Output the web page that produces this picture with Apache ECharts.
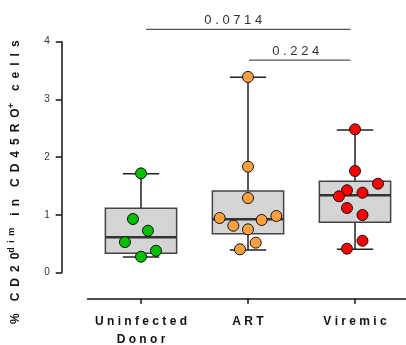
<!DOCTYPE html>
<html><head><meta charset="utf-8">
<script src="https://cdn.jsdelivr.net/npm/echarts@6/dist/echarts.min.js"></script>
<style>html,body{margin:0;padding:0;background:#fff}#c{width:406px;height:345px}</style>
</head><body><div id="c"></div>
<script>
const categories = ['Uninfected\nDonor', 'ART', 'Viremic'];
const yTicks = [0, 1, 2, 3, 4];
// box stats: [min, Q1, median, Q3, max]
const boxUninfected = [0.27, 0.336, 0.613, 1.115, 1.714];
const boxART = [0.393, 0.675, 0.925, 1.415, 3.384];
const boxViremic = [0.405, 0.873, 1.34, 1.583, 2.471];
const ptsUninfected = [1.72, 0.93, 0.727, 0.53, 0.38, 0.277];
const jitUninfected = [0, -0.075, 0.065, -0.15, 0.14, 0];
const ptsART = [3.39, 1.835, 1.293, 0.947, 0.982, 0.913, 0.814, 0.751, 0.52, 0.405];
const jitART = [0, 0, 0, -0.265, 0.265, 0.128, -0.137, 0, 0.072, -0.075];
const ptsViremic = [2.483, 1.761, 1.541, 1.427, 1.385, 1.323, 1.12, 0.999, 0.554, 0.416];
const jitViremic = [0, 0, 0.215, -0.075, 0.07, -0.15, -0.075, 0.07, 0.07, -0.075];
const pValues = ['0.0714', '0.224'];
const comparisons = [[0, 2], [1, 2]];
const bracketLevels = [4.215, 3.68];

const spaced = s => s.split('').join(' ');
const wide = s => s.split('').join('\u2002');
const boxes = [boxUninfected, boxART, boxViremic];
const pointColors = ['#00c000', '#ffa040', '#ff0000'];
const groups = [[ptsUninfected, jitUninfected], [ptsART, jitART], [ptsViremic, jitViremic]];

const chart = echarts.init(document.getElementById('c'), null, {renderer: 'canvas'});
const FONT = 'Liberation Sans, Arial, sans-serif';

const boxSeries = {
  type: 'custom', xAxisIndex: 1, yAxisIndex: 0, z: 2,
  data: boxes.map((b, i) => [i].concat(b)),
  renderItem: function (params, api) {
    const x = api.value(0);
    const bw = api.size([1, 0])[0];
    const hw = bw * 0.333, cw = bw * 0.17;
    const pMin = api.coord([x, api.value(1)]);
    const pQ1 = api.coord([x, api.value(2)]);
    const pMed = api.coord([x, api.value(3)]);
    const pQ3 = api.coord([x, api.value(4)]);
    const pMax = api.coord([x, api.value(5)]);
    const cx = pMin[0];
    return {
      type: 'group', children: [
        {type: 'line', shape: {x1: cx, y1: pQ3[1], x2: cx, y2: pMax[1]}, style: {stroke: '#222', lineWidth: 1.5}},
        {type: 'line', shape: {x1: cx, y1: pQ1[1], x2: cx, y2: pMin[1]}, style: {stroke: '#222', lineWidth: 1.5}},
        {type: 'line', shape: {x1: cx - cw, y1: pMax[1], x2: cx + cw, y2: pMax[1]}, style: {stroke: '#222', lineWidth: 1.5}},
        {type: 'line', shape: {x1: cx - cw, y1: pMin[1], x2: cx + cw, y2: pMin[1]}, style: {stroke: '#222', lineWidth: 1.5}},
        {type: 'rect', shape: {x: cx - hw, y: pQ3[1], width: 2 * hw, height: pQ1[1] - pQ3[1]}, style: {fill: '#d4d4d4', stroke: '#444', lineWidth: 1.5}},
        {type: 'line', shape: {x1: cx - hw, y1: pMed[1], x2: cx + hw, y2: pMed[1]}, style: {stroke: '#333', lineWidth: 2.5}}
      ]
    };
  }
};

const scatterSeries = groups.map((g, i) => ({
  type: 'scatter', xAxisIndex: 1, yAxisIndex: 0, z: 5,
  symbol: 'circle', symbolSize: 11,
  itemStyle: {color: pointColors[i], borderColor: '#111', borderWidth: 1, opacity: 1},
  data: g[0].map((v, k) => [i + g[1][k], v])
}));

const bracketSeries = {
  type: 'custom', xAxisIndex: 1, yAxisIndex: 0, z: 6, clip: false,
  data: comparisons.map((c, i) => [c[0], c[1], bracketLevels[i], i]),
  renderItem: function (params, api) {
    const i = api.value(3);
    const a = api.coord([api.value(0), api.value(2)]);
    const b = api.coord([api.value(1), api.value(2)]);
    const x1 = a[0] + (i === 0 ? 5 : 1), x2 = b[0] - 4.5;
    const tx = (x1 + x2) / 2 + (i === 0 ? -15 : -4);
    return {
      type: 'group', children: [
        {type: 'line', shape: {x1: x1, y1: a[1], x2: x2, y2: a[1]}, style: {stroke: '#555', lineWidth: 1.3}},
        {type: 'text', x: tx, y: a[1] - 2, style: {text: spaced(pValues[i]), fill: '#333', font: '13px ' + FONT, textAlign: 'center', textVerticalAlign: 'bottom'}}
      ]
    };
  }
};

const W = '\u2003';
const yName = '%' + W + wide('CD20') + '{sup|' + wide('dim') + '}' + W + wide('in') + W + wide('CD45RO') + '{sup|+}' + W + wide('cells');

chart.setOption({
  animation: false,
  backgroundColor: '#fff',
  grid: {left: 87.5, right: -2.5, top: 41.7, bottom: 72.3, containLabel: false, outerBoundsMode: 'none'},
  xAxis: [{
    type: 'category', data: categories, offset: 26,
    axisLine: {onZero: false, lineStyle: {color: '#111', width: 1.5}},
    axisTick: {show: true, alignWithLabel: true, length: 5, lineStyle: {color: '#111', width: 1.5}},
    axisLabel: {
      interval: 0,
      color: '#111', fontWeight: 'bold', fontSize: 12, fontFamily: FONT, lineHeight: 18, margin: 14,
      formatter: v => v.split('\n').map(spaced).join('\n')
    },
    splitLine: {show: false}
  }, {
    type: 'value', min: -0.5, max: 2.5, show: false
  }],
  yAxis: [{
    type: 'value', min: 0, max: 4, interval: 1, offset: 25.8,
    axisLine: {show: true, onZero: false, lineStyle: {color: '#111', width: 1.5}},
    axisTick: {show: true, length: 6, lineStyle: {color: '#111', width: 1.5}},
    axisLabel: {color: '#333', fontSize: 10, fontFamily: FONT, margin: 12, formatter: v => yTicks.includes(v) ? String(v) : ''},
    splitLine: {show: false},
    name: yName,
    nameLocation: 'middle', nameGap: 38, nameRotate: 90,
    nameTextStyle: {
      color: '#111', fontWeight: 'bold', fontSize: 12, fontFamily: FONT, padding: [0, 50, 0, 0],
      rich: {sup: {fontSize: 9, fontWeight: 'bold', fontFamily: FONT, color: '#111', verticalAlign: 'top', padding: [0, 0, 8, 0]}}
    }
  }],
  series: [boxSeries].concat(scatterSeries, [bracketSeries])
});
</script>
</body></html>
